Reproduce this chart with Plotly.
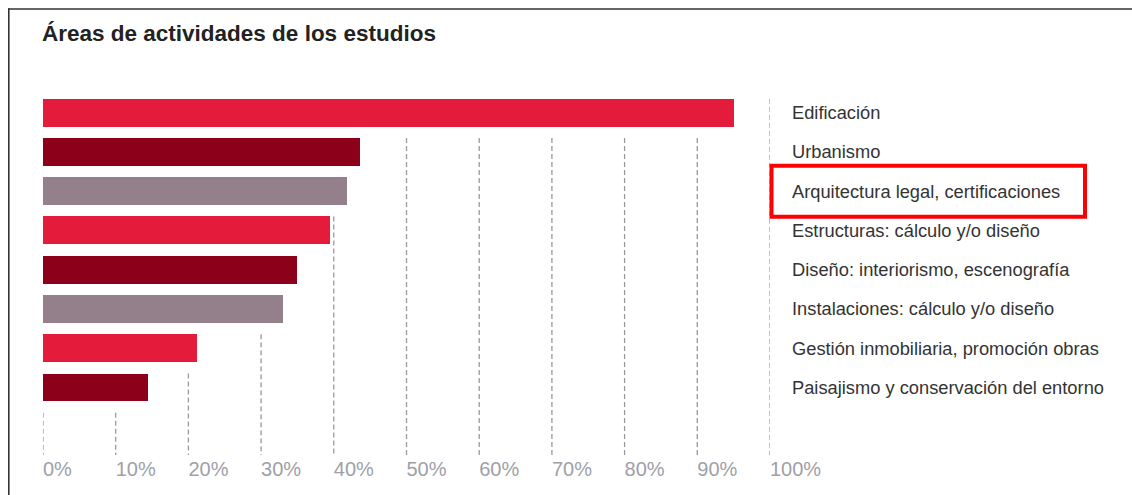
import plotly.graph_objects as go

# ---- data ----
categories = [
    "Edificación",
    "Urbanismo",
    "Arquitectura legal, certificaciones",
    "Estructuras: cálculo y/o diseño",
    "Diseño: interiorismo, escenografía",
    "Instalaciones: cálculo y/o diseño",
    "Gestión inmobiliaria, promoción obras",
    "Paisajismo y conservación del entorno",
]
values = [95.0, 43.6, 41.8, 39.5, 34.9, 33.0, 21.2, 14.4]
bar_colors = ["#E41B3A", "#8C0019", "#93808A", "#E41B3A", "#8C0019", "#93808A", "#E41B3A", "#8C0019"]
tick_vals = [0, 10, 20, 30, 40, 50, 60, 70, 80, 90, 100]
tick_text = ["0%", "10%", "20%", "30%", "40%", "50%", "60%", "70%", "80%", "90%", "100%"]
highlight = "Arquitectura legal, certificaciones"

# ---- layout constants (page pixels; body margin removed by post_script) ----
W, H = 1132, 495
X0_PAGE, X100_PAGE = 43, 770
ML = X0_PAGE
MR = W - X100_PAGE
ROW = 39.3
Y0 = 112.5            # pixel centre of first row
BAR_W = 0.71
Y_TOP, Y_BOT = -0.5, 8.72
MT = Y0 + Y_TOP * ROW
MB = H - (Y0 + Y_BOT * ROW)
PW = W - ML - MR
PH = H - MT - MB
FONT = "Liberation Sans, Arial, Helvetica, sans-serif"

def px_x(px):
    return (px - ML) / PW

def px_y(py):
    return (H - MB - py) / PH

ypos = list(range(len(categories)))

fig = go.Figure()

# dashed gridlines: drawn up to the slot below the lowest bar that passes them
for t in tick_vals:
    over = [i for i, v in enumerate(values) if v > t]
    last = max(over) if over else -1
    top = (last + 1) - BAR_W / 2
    fig.add_trace(go.Scatter(
        x=[t, t], y=[top, Y_BOT], mode="lines",
        line=dict(color="#9a9a9a", width=1.3, dash="5px,3px"),
        hoverinfo="skip", showlegend=False,
    ))

fig.add_trace(go.Bar(
    x=values, y=ypos, orientation="h", width=BAR_W,
    marker=dict(color=bar_colors, line=dict(width=0)),
    showlegend=False, hovertemplate="%{x}%<extra></extra>",
))

fig.update_layout(
    width=W, height=H,
    margin=dict(l=ML, r=MR, t=MT, b=MB, pad=0),
    paper_bgcolor="white", plot_bgcolor="white",
    font=dict(family=FONT, color="#333333"),
    title=dict(
        text="<b>Áreas de actividades de los estudios</b>",
        xref="container", yref="container",
        x=42 / W, y=1 - 33 / H, xanchor="left", yanchor="middle",
        font=dict(size=22.5, color="#222222", family=FONT),
    ),
    xaxis=dict(
        range=[0, 100], tickvals=tick_vals, ticktext=tick_text,
        showgrid=False, zeroline=False, showline=False, ticks="",
        ticklabelposition="outside right",
        tickfont=dict(size=20, color="#a0a0a8", family=FONT),
        fixedrange=True,
    ),
    yaxis=dict(
        range=[Y_BOT, Y_TOP], tickvals=ypos, ticktext=categories,
        side="right", showgrid=False, zeroline=False, showline=False, ticks="",
        ticklabelstandoff=21,
        tickfont=dict(size=18.3, color="#333333", family=FONT),
        fixedrange=True,
    ),
    bargap=0,
)

# frame (top and left border)
fig.add_shape(type="line", xref="paper", yref="paper",
              x0=px_x(8.8), y0=px_y(H + 20), x1=px_x(8.8), y1=px_y(8.0),
              line=dict(color="#333333", width=1.6))
fig.add_shape(type="line", xref="paper", yref="paper",
              x0=px_x(8.0), y0=px_y(8.8), x1=px_x(W + 20), y1=px_y(8.8),
              line=dict(color="#333333", width=1.6))

# highlight box around one label
hi = categories.index(highlight)
fig.add_shape(type="rect", xref="paper", yref="y",
              x0=px_x(771.5), x1=px_x(1085),
              y0=hi - 0.65, y1=hi + 0.65,
              line=dict(color="#FF0000", width=4), fillcolor="rgba(0,0,0,0)")

fig.write_html(
    "out.html",
    config={"displayModeBar": False},
    post_script="document.body.style.margin='0';document.body.style.overflow='hidden';",
)
